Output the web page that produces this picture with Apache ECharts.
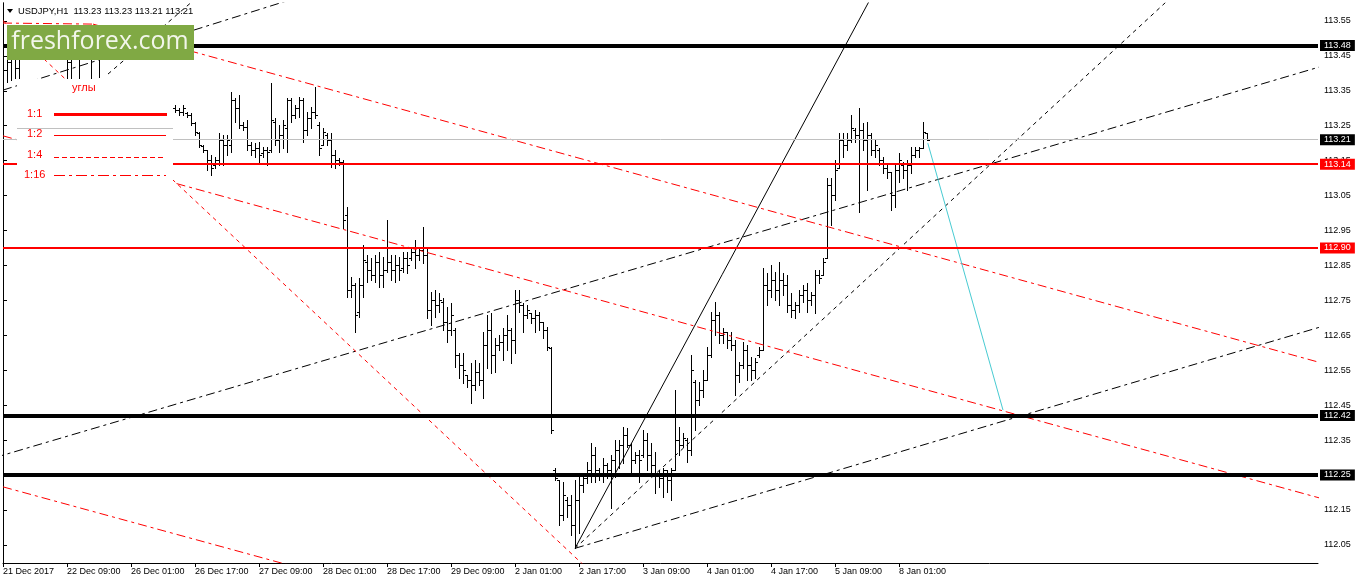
<!DOCTYPE html>
<html><head><meta charset="utf-8">
<script src="https://cdn.jsdelivr.net/npm/echarts@6/dist/echarts.min.js"></script>
<style>html,body{margin:0;padding:0;background:#fff}#c{width:1358px;height:584px}</style>
</head><body><div id="c"></div>
<script>
// ---- OHLC bars (USDJPY H1), index = bar number from 21 Dec 17:00 ----
const barOpen=[113.453,113.410,113.432,113.453,113.415,113.467,113.481,113.495,113.473,113.490,113.467,113.481,113.495,113.467,113.481,113.461,113.453,113.432,113.467,113.461,113.444,113.481,113.461,113.453,113.473,113.467,113.481,113.467,113.490,113.473,113.481,113.467,113.295,113.266,113.238,113.252,113.209,113.223,113.266,113.238,113.281,113.266,113.289,113.301,113.295,113.289,113.286,113.281,113.258,113.229,113.192,113.181,113.152,113.138,113.152,113.209,113.195,113.195,113.324,113.301,113.252,113.246,113.195,113.181,113.186,113.172,113.181,113.181,113.261,113.209,113.223,113.244,113.324,113.281,113.301,113.324,113.238,113.272,113.289,113.252,113.195,113.223,113.209,113.166,113.152,113.146,112.994,112.780,112.794,112.717,112.794,112.860,112.837,112.823,112.860,112.823,112.837,112.860,112.837,112.851,112.843,112.871,112.871,112.889,112.880,112.894,112.880,112.722,112.751,112.737,112.745,112.688,112.665,112.665,112.594,112.565,112.536,112.522,112.508,112.545,112.522,112.622,112.665,112.594,112.622,112.631,112.651,112.665,112.637,112.751,112.737,112.708,112.714,112.700,112.708,112.688,112.665,112.614,112.264,112.236,112.135,112.178,112.164,112.107,112.178,112.221,112.241,112.264,112.307,112.264,112.250,112.279,112.264,112.293,112.322,112.336,112.365,112.336,112.293,112.307,112.307,112.350,112.307,112.279,112.250,112.241,112.264,112.236,112.264,112.350,112.336,112.350,112.322,112.516,112.465,112.493,112.522,112.594,112.694,112.708,112.651,112.660,112.637,112.622,112.536,112.565,112.608,112.565,112.550,112.594,112.608,112.794,112.780,112.808,112.780,112.808,112.794,112.737,112.722,112.737,112.765,112.780,112.751,112.765,112.823,112.823,112.871,113.080,113.052,113.129,113.209,113.195,113.209,113.238,113.223,113.238,113.209,113.223,113.181,113.181,113.152,113.129,113.118,113.052,113.123,113.138,113.123,113.138,113.166,113.181,113.186,113.23];
const barHigh=[113.495,113.481,113.490,113.495,113.501,113.510,113.524,113.530,113.510,113.524,113.501,113.518,113.524,113.495,113.510,113.495,113.481,113.490,113.495,113.473,113.495,113.501,113.481,113.495,113.490,113.501,113.510,113.495,113.518,113.501,113.507,113.495,113.309,113.295,113.281,113.295,113.266,113.281,113.309,113.295,113.309,113.301,113.312,113.309,113.301,113.309,113.289,113.286,113.261,113.232,113.195,113.181,113.166,113.160,113.229,113.223,113.223,113.347,113.329,113.338,113.261,113.266,113.203,113.201,113.203,113.189,113.189,113.372,113.272,113.252,113.266,113.329,113.329,113.309,113.332,113.329,113.289,113.304,113.361,113.261,113.244,113.229,113.229,113.181,113.158,113.152,113.017,112.817,112.800,112.814,112.909,112.880,112.871,112.880,112.889,112.874,112.980,112.880,112.880,112.874,112.889,112.889,112.900,112.923,112.903,112.960,112.903,112.774,112.780,112.771,112.757,112.731,112.742,112.671,112.599,112.599,112.536,112.571,112.579,112.571,112.660,112.708,112.714,112.642,112.651,112.671,112.708,112.671,112.780,112.780,112.742,112.737,112.714,112.722,112.717,112.688,112.674,112.617,112.270,112.236,112.230,112.187,112.193,112.236,112.250,112.250,112.287,112.342,112.330,112.270,112.299,112.284,112.307,112.350,112.350,112.387,112.385,112.342,112.316,112.322,112.379,112.370,112.342,112.316,112.264,112.270,112.264,112.270,112.493,112.387,112.370,112.356,112.594,112.522,112.516,112.550,112.617,112.717,112.745,112.717,112.671,112.660,112.660,112.637,112.574,112.631,112.622,112.588,112.585,112.617,112.843,112.828,112.851,112.831,112.860,112.828,112.823,112.771,112.745,112.780,112.794,112.800,112.774,112.837,112.837,112.871,113.100,113.100,113.152,113.229,113.229,113.229,113.281,113.244,113.301,113.258,113.261,113.229,113.209,113.186,113.160,113.138,113.118,113.143,113.172,113.146,113.152,113.189,113.189,113.189,113.261,113.23];
const barLow=[113.358,113.375,113.381,113.387,113.387,113.444,113.453,113.461,113.444,113.453,113.444,113.450,113.461,113.444,113.447,113.444,113.387,113.387,113.441,113.387,113.441,113.444,113.387,113.441,113.390,113.444,113.453,113.444,113.461,113.444,113.450,113.444,113.238,113.209,113.181,113.195,113.152,113.181,113.209,113.195,113.223,113.238,113.266,113.289,113.281,113.281,113.275,113.252,113.223,113.189,113.175,113.123,113.109,113.129,113.138,113.138,113.166,113.175,113.261,113.244,113.238,113.181,113.166,113.160,113.146,113.160,113.138,113.175,113.195,113.175,113.186,113.175,113.261,113.272,113.275,113.203,113.223,113.244,113.272,113.166,113.195,113.195,113.132,113.129,113.138,112.957,112.760,112.760,112.660,112.702,112.760,112.803,112.808,112.803,112.788,112.788,112.831,112.808,112.803,112.808,112.831,112.828,112.866,112.843,112.866,112.857,112.700,112.680,112.702,112.717,112.665,112.631,112.651,112.559,112.528,112.513,112.502,112.456,112.493,112.508,112.471,112.556,112.542,112.545,112.608,112.579,112.608,112.571,112.599,112.717,112.660,112.700,112.685,112.660,112.665,112.642,112.608,112.370,112.236,112.107,112.121,112.130,112.078,112.041,112.084,112.201,112.227,112.230,112.230,112.236,112.230,112.241,112.156,112.244,112.270,112.284,112.330,112.259,112.284,112.230,112.302,112.264,112.259,112.199,112.216,112.187,112.201,112.178,112.264,112.307,112.330,112.287,112.307,112.379,112.450,112.473,112.522,112.588,112.651,112.628,112.628,112.614,112.608,112.479,112.516,112.556,112.522,112.522,112.528,112.588,112.608,112.737,112.760,112.751,112.737,112.765,112.717,112.702,112.700,112.717,112.745,112.717,112.737,112.714,112.800,112.823,112.871,112.966,113.037,113.129,113.160,113.181,113.203,113.203,113.003,113.181,113.066,113.166,113.160,113.138,113.115,113.100,113.009,113.017,113.089,113.100,113.066,113.115,113.160,113.160,113.186,113.21];
const barClose=[113.410,113.432,113.453,113.415,113.467,113.481,113.495,113.473,113.490,113.467,113.481,113.495,113.467,113.481,113.461,113.453,113.432,113.467,113.461,113.444,113.481,113.461,113.453,113.473,113.467,113.481,113.467,113.490,113.473,113.481,113.467,113.455,113.266,113.238,113.252,113.209,113.223,113.266,113.238,113.281,113.266,113.289,113.301,113.295,113.289,113.301,113.281,113.258,113.232,113.195,113.181,113.152,113.129,113.152,113.209,113.195,113.209,113.324,113.301,113.252,113.246,113.195,113.181,113.186,113.166,113.181,113.175,113.266,113.209,113.223,113.252,113.324,113.281,113.301,113.324,113.238,113.272,113.289,113.281,113.186,113.232,113.209,113.166,113.152,113.146,112.980,112.780,112.794,112.708,112.794,112.866,112.837,112.823,112.860,112.823,112.837,112.860,112.837,112.851,112.837,112.871,112.851,112.889,112.880,112.894,112.880,112.722,112.751,112.737,112.751,112.688,112.665,112.708,112.594,112.565,112.550,112.522,112.508,112.545,112.522,112.622,112.665,112.594,112.622,112.631,112.651,112.665,112.637,112.751,112.737,112.708,112.722,112.700,112.708,112.688,112.665,112.617,112.379,112.241,112.135,112.193,112.164,112.107,112.178,112.221,112.241,112.264,112.307,112.264,112.250,112.279,112.264,112.293,112.322,112.336,112.365,112.336,112.293,112.307,112.293,112.350,112.307,112.279,112.250,112.241,112.264,112.236,112.264,112.350,112.336,112.356,112.322,112.550,112.465,112.493,112.522,112.594,112.694,112.708,112.651,112.660,112.637,112.622,112.536,112.565,112.608,112.565,112.550,112.574,112.608,112.794,112.780,112.808,112.780,112.808,112.794,112.737,112.722,112.737,112.765,112.780,112.751,112.765,112.823,112.814,112.860,113.080,113.052,113.123,113.209,113.195,113.209,113.244,113.223,113.238,113.209,113.223,113.181,113.195,113.152,113.129,113.118,113.052,113.123,113.152,113.123,113.138,113.166,113.181,113.186,113.232,113.21];

// ---- axes ----
const timeTickIdx=[0,16,32,48,64,80,96,112,128,144,160,176,192,208,224];
const timeLabels=["21 Dec 2017","22 Dec 09:00","26 Dec 01:00","26 Dec 17:00","27 Dec 09:00","28 Dec 01:00","28 Dec 17:00","29 Dec 09:00","2 Jan 01:00","2 Jan 17:00","3 Jan 09:00","4 Jan 01:00","4 Jan 17:00","5 Jan 09:00","8 Jan 01:00"];
const priceTicks=[112.05,112.15,112.25,112.35,112.45,112.55,112.65,112.75,112.85,112.95,113.05,113.15,113.25,113.35,113.45,113.55];

// ---- horizontal levels ----
const levelsBlack=[113.48,112.42,112.25];
const levelsRed=[113.14,112.90];
const bidPrice=113.21;

// ---- trend lines: [barIndex, price] endpoints ----
const fanSolid=[[143,112.040],[225,113.787]];
const fanDash=[[143,112.040],[300,113.702]];
const fanDashDot=[[143,112.040],[340,112.710]];
const channelBlack=[[-2,112.300],[340,113.455]];
const topBlackDashDot=[[0,113.352],[75,113.622]];
const topBlackDash=[[26.25,113.398],[50,113.632]];
const redFlatTop=[[0,113.544],[22.5,113.541]];
const redUpper=[[22.5,113.541],[340,112.538]];
const redLower=[[0,113.221],[340,112.150]];
const redBottom=[[0,112.216],[75,111.981]];
const redSteep=[[0,113.551],[150,111.940]];
const cyanLine=[[231.2,113.200],[250,112.436]];

const DASH=[4,4];
const DASHDOT=[9,4,3,4];
const FONT='"Liberation Sans", Arial, sans-serif';
const RED='rgb(255,0,0)';

const chart=echarts.init(document.getElementById('c'),null,{renderer:'canvas'});
const bars=barOpen.map((o,i)=>[i,o,barHigh[i],barLow[i],barClose[i]]);

function renderBar(params,api){
  const i=api.value(0);
  const o=api.coord([i,api.value(1)]);
  const h=api.coord([i,api.value(2)]);
  const l=api.coord([i,api.value(3)]);
  const c=api.coord([i,api.value(4)]);
  const X=Math.round(o[0]);
  const hy=Math.round(h[1]), ly=Math.round(l[1]);
  const oy=Math.round(o[1]), cy=Math.round(c[1]);
  const st={fill:'#000'};
  return {type:'group',children:[
    {type:'rect',shape:{x:X,y:hy,width:1,height:Math.max(1,ly-hy+1)},style:st},
    {type:'rect',shape:{x:X-2,y:oy,width:2,height:1},style:st},
    {type:'rect',shape:{x:X+1,y:cy,width:2,height:1},style:st}
  ]};
}

function tl(data,color,type,z){
  return {type:'line',data:data,symbol:'none',showSymbol:false,silent:true,animation:false,clip:true,z:z||4,
    lineStyle:{color:color,width:1,type:type}};
}
function lvl(v,color,width,bg){
  return {yAxis:v,lineStyle:{color:color,width:width,type:'solid'},
    label:{show:true,position:'end',distance:2,formatter:v.toFixed(2),color:'#fff',backgroundColor:bg,
      padding:[1,4,0,4],fontSize:9,lineHeight:10,fontFamily:FONT}};
}
let zc=100;
function g(el){el.z=zc++;return el;}
// legend sample: pattern of [on,off,...] pixel runs drawn as red rects
function sample(x1,x2,y,h,pattern){
  const out=[];let x=x1,k=0;
  while(x<x2){const len=Math.min(pattern[k%pattern.length],x2-x);
    if(k%2===0) out.push(g({type:'rect',shape:{x:x,y:y,width:len,height:h},style:{fill:RED,stroke:null}}));
    x+=len;k++;}
  return out;
}

const elements=[
    g({type:'rect',shape:{x:17,y:79,width:156,height:106},style:{fill:'#fff'}}),
    g({type:'text',style:{text:'углы',x:72,y:88,verticalAlign:'middle',fill:RED,font:'11px '+FONT}}),
    g({type:'rect',shape:{x:17,y:128,width:156,height:1},style:{fill:'#c0c0c0'}}),
    g({type:'text',style:{text:'1:1',x:27,y:114,verticalAlign:'middle',fill:RED,font:'11px '+FONT}}),
    g({type:'text',style:{text:'1:2',x:27,y:134,verticalAlign:'middle',fill:RED,font:'11px '+FONT}}),
    g({type:'text',style:{text:'1:4',x:27,y:155,verticalAlign:'middle',fill:RED,font:'11px '+FONT}}),
    g({type:'text',style:{text:'1:16',x:24,y:175,verticalAlign:'middle',fill:RED,font:'11px '+FONT}}),
    g({type:'rect',shape:{x:54,y:113,width:113,height:3},style:{fill:RED}}),
    g({type:'rect',shape:{x:54,y:135,width:112,height:1},style:{fill:RED,stroke:null}})
  ].concat(sample(54,166,157,1,[5,3]),sample(54,166,175,1,[11,4,3,4]));
elements.push(
    g({type:'rect',shape:{x:7,y:25,width:187,height:35},style:{fill:'#80a944'}}),
    g({type:'text',style:{text:'freshforex.com',x:100,y:42,align:'center',verticalAlign:'middle',fill:'#f2f6ea',font:'25px "Open Sans", sans-serif'}}),
    g({type:'polygon',shape:{points:[[7,9],[13,9],[10,13]]},style:{fill:'#000'}}),
    g({type:'text',style:{text:'USDJPY,H1  113.23 113.23 113.21 113.21',x:18,y:11,verticalAlign:'middle',fill:'#000',font:'9.4px '+FONT}})
);

const option={
  animation:false,
  backgroundColor:'#fff',
  grid:{left:3,right:40,top:3,bottom:21,containLabel:false},
  xAxis:{type:'value',min:0,max:328.75,
    axisLine:{show:true,lineStyle:{color:'#000',width:1}},
    axisTick:{show:true,length:4,inside:false,customValues:timeTickIdx,lineStyle:{color:'#000'}},
    axisLabel:{show:true,customValues:timeTickIdx,align:'left',margin:4,fontSize:9,color:'#000',fontFamily:FONT,
      formatter:v=>timeLabels[timeTickIdx.indexOf(Math.round(v))]},
    splitLine:{show:false}},
  yAxis:[{type:'value',position:'right',min:111.998,max:113.6014,
    axisLine:{show:true,lineStyle:{color:'#000',width:1}},
    axisTick:{show:true,length:4,inside:false,customValues:priceTicks,lineStyle:{color:'#000'}},
    axisLabel:{show:true,customValues:priceTicks,margin:6,fontSize:9,color:'#000',fontFamily:FONT,
      formatter:v=>Number(v).toFixed(2)},
    splitLine:{show:false}},
   {type:'value',position:'left',min:111.998,max:113.6014,
    axisLine:{show:true,lineStyle:{color:'#000',width:1}},axisTick:{show:false},axisLabel:{show:false},splitLine:{show:false}}],
  series:[
    {type:'line',data:[],z:1,silent:true,markLine:{symbol:'none',silent:true,animation:false,
      data:[lvl(bidPrice,'#c0c0c0',1,'#000')]}},
    {type:'custom',data:bars,renderItem:renderBar,z:2,silent:true,encode:{x:0,y:[1,2,3,4]},clip:true},
    {type:'line',data:[],z:3,silent:true,markLine:{symbol:'none',silent:true,animation:false,
      data:levelsRed.map(v=>lvl(v,RED,2,RED)).concat(levelsBlack.map(v=>lvl(v,'#000',4,'#000')))}},
    tl(fanSolid,'#000','solid'),
    tl(fanDash,'#000',DASH),
    tl(fanDashDot,'#000',DASHDOT),
    tl(channelBlack,'#000',DASHDOT),
    tl(topBlackDashDot,'#000',DASHDOT),
    tl(topBlackDash,'#000',DASH),
    tl(redFlatTop,RED,DASHDOT),
    tl(redUpper,RED,DASHDOT),
    tl(redLower,RED,DASHDOT),
    tl(redBottom,RED,DASHDOT),
    tl(redSteep,RED,DASH),
    tl(cyanLine,'#48cbd2','solid')
  ],
  graphic:{elements:elements}
};
chart.setOption(option);
</script></body></html>
